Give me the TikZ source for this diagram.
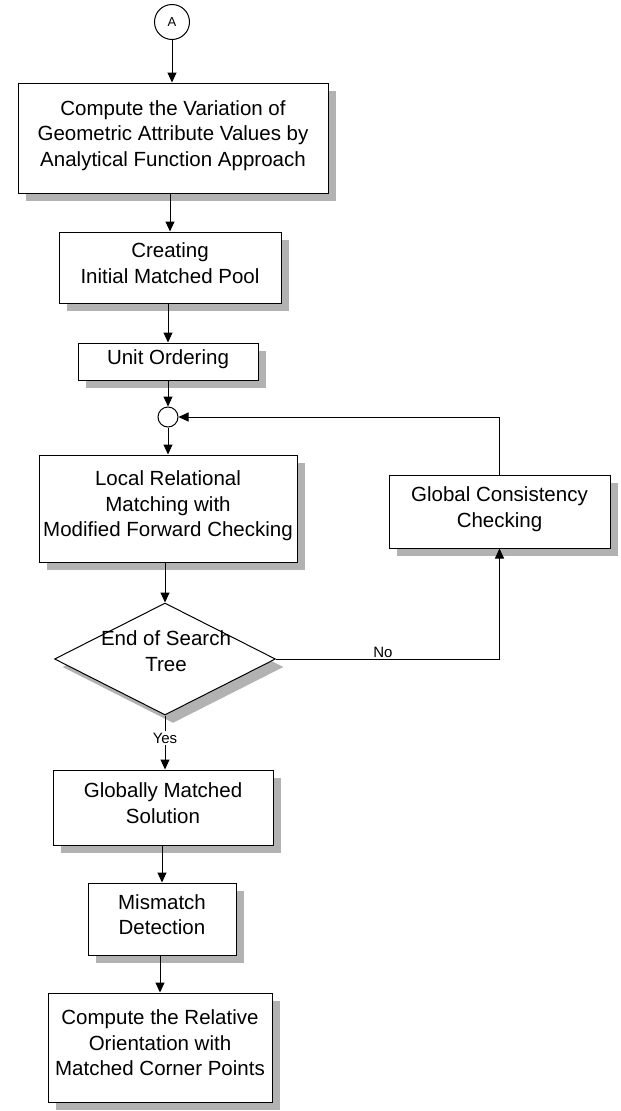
\documentclass[tikz,border=0pt]{standalone}
\usepackage{fontspec}
\setmainfont{Liberation Sans}
\usetikzlibrary{arrows.meta,shapes.geometric,shadows}
\begin{document}
\begin{tikzpicture}[x=1pt,y=-1pt,
  every node/.style={font=\fontsize{20.5}{25.5}\selectfont},
  shade box/.style={drop shadow={shadow xshift=8pt, shadow yshift=-8pt, fill=black!30, opacity=1}},
  % the strut at the end of the text sets it a little above the middle of the box
  box/.style={draw, fill=white, line width=1pt, inner sep=0pt, align=center, shade box,
    execute at end node={\rule[-9pt]{0pt}{9pt}}},
  flow/.style={line width=1pt, -{Triangle[length=10pt,width=9pt]}},
  tag/.style={fill=white, inner sep=1.5pt, font=\fontsize{15}{17}\selectfont},
]
\useasboundingbox (0,0) rectangle (621,1111);

% connector A
\node[draw, circle, line width=1pt, minimum size=35pt, inner sep=0pt,
      font=\fontsize{13}{15}\selectfont] (A) at (172,22) {A};

% main column of process boxes
\node[box, minimum width=310pt, minimum height=110pt] (b1) at (173,138)
  {Compute the Variation of\\Geometric Attribute Values by\\Analytical Function Approach};
\node[box, minimum width=222pt, minimum height=71pt] (b2) at (170,267.5)
  {Creating\\Initial Matched Pool};
\node[box, minimum width=180pt, minimum height=37pt] (b3) at (168,361.5)
  {Unit Ordering};
\node[draw, circle, line width=1pt, minimum size=20pt, inner sep=0pt, fill=white] (junc) at (168,417) {};
\node[box, minimum width=258pt, minimum height=107pt] (b4) at (168,508.5)
  {Local Relational\\Matching with\\Modified Forward Checking};

% decision
\node[draw, diamond, fill=white, line width=1pt, inner sep=0pt,
      minimum width=221pt, minimum height=112pt, shade box] (dec) at (165,659) {};
\node[align=center] (dectext) at (166,651) {End of Search\\Tree};

\node[box, minimum width=220pt, minimum height=75pt] (b5) at (163,807.5)
  {Globally Matched\\Solution};
\node[box, minimum width=148pt, minimum height=72pt] (b6) at (162,919)
  {Mismatch\\Detection};
\node[box, minimum width=224pt, minimum height=109pt] (b7) at (160,1047.5)
  {Compute the Relative\\Orientation with\\Matched Corner Points};

% feedback branch
\node[box, minimum width=221pt, minimum height=73pt] (bG) at (499.5,511.5)
  {Global Consistency\\Checking};

% connectors
\draw[flow] (A.south) -- (A.south |- b1.north);
\draw[flow] (b1.south -| b2.north) -- (b2.north);
\draw[flow] (b2.south -| b3.north) -- (b3.north);
\draw[flow] (b3.south) -- (junc.north);
\draw[flow] (junc.south) -- (b4.north);
\draw[flow] (b4.south -| dec.north) -- (dec.north);
\draw[flow] (dec.south) -- (dec.south |- b5.north);
\draw[flow] (b5.south -| b6.north) -- (b6.north);
\draw[flow] (b6.south -| b7.north) -- (b7.north);
\draw[flow] (dec.east) -| (bG.south);
\draw[flow] (bG.north) |- (junc.east);

% branch labels
\node[tag] (yes) at (165,738) {Yes};
\node[tag] (no) at (383,652) {No};
\end{tikzpicture}
\end{document}
